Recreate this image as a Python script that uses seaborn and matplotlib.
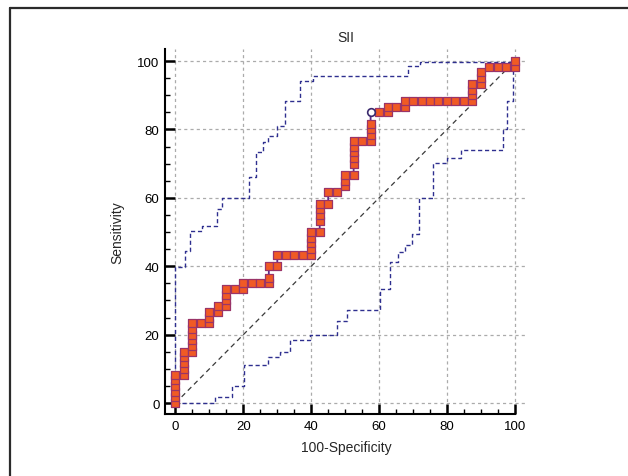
import numpy as np
import pandas as pd
import matplotlib
matplotlib.use("Agg")
import matplotlib.pyplot as plt
import seaborn as sns
from matplotlib.ticker import MultipleLocator
from matplotlib.lines import Line2D

# ROC curve points (100-Specificity, Sensitivity)
FPR = [0, 0, 0, 0, 0, 0,
       2.5, 2.5, 2.5, 2.5, 2.5,
       5, 5, 5, 5, 5, 5,
       7.5,
       10, 10, 10,
       12.5, 12.5,
       15, 15, 15, 15,
       17.5,
       20, 20,
       22.5, 25,
       27.5, 27.5, 27.5,
       30, 30,
       32.5, 35, 37.5,
       40, 40, 40, 40, 40,
       42.5, 42.5, 42.5, 42.5, 42.5,
       45, 45,
       47.5,
       50, 50, 50,
       52.5, 52.5, 52.5, 52.5, 52.5, 52.5,
       55,
       57.5, 57.5, 57.5, 57.5, 57.5,
       60,
       62.5, 62.5,
       65,
       67.5, 67.5,
       70, 72.5, 75, 77.5, 80, 82.5, 85,
       87.5, 87.5, 87.5, 87.5,
       90, 90, 90,
       92.5, 95, 97.5,
       100, 100]
TPR = [0, 1.67, 3.33, 5, 6.67, 8.33,
       8.33, 10, 11.67, 13.33, 15,
       15, 16.67, 18.33, 20, 21.67, 23.33,
       23.33,
       23.33, 25, 26.67,
       26.67, 28.33,
       28.33, 30, 31.67, 33.33,
       33.33,
       33.33, 35,
       35, 35,
       35, 36.67, 40,
       40, 43.33,
       43.33, 43.33, 43.33,
       43.33, 45, 46.67, 48.33, 50,
       50, 53.33, 55, 56.67, 58.33,
       58.33, 61.67,
       61.67,
       63.33, 65, 66.67,
       66.67, 70, 71.67, 73.33, 75, 76.67,
       76.67,
       76.67, 78.33, 80, 81.67, 85,
       85,
       85, 86.67,
       86.67,
       86.67, 88.33,
       88.33, 88.33, 88.33, 88.33, 88.33, 88.33, 88.33,
       88.33, 90, 91.67, 93.33,
       93.33, 95, 96.67,
       98.33, 98.33, 98.33,
       98.33, 100]

# optimal criterion point (hollow circle)
CUT_FPR = 57.5
CUT_TPR = 85.0

# 95% confidence bounds, step corners (x of the rise, level after the rise)
UPPER_X = [0, 0, 2.8, 4.3, 7.7, 12.1, 13.6, 21.8, 23.7, 25.8, 27.4, 29.8,
           32.3, 36.7, 40.6, 68.6, 72.0, 100]
UPPER_Y = [0, 39.7, 44.5, 50.4, 51.8, 56.7, 60.0, 66.0, 73.3, 76.2, 78.2, 81.1,
           88.4, 94.2, 95.5, 98.6, 99.6, 100]
LOWER_X = [0, 11.6, 16.6, 20.2, 27.4, 30.8, 33.7, 39.6, 47.5, 50.4, 60.3,
           63.2, 65.7, 67.6, 69.6, 71.9, 76.0, 79.9, 84.0, 96.6, 97.6, 99.4]
LOWER_Y = [0, 1.7, 5.1, 11.1, 13.4, 15.0, 18.5, 20.0, 24.1, 27.2, 33.3,
           41.1, 44.3, 46.3, 49.4, 60.1, 70.1, 71.6, 74.0, 80.1, 88.4, 100]

DIAG = [0, 100]
TICKS = [0, 20, 40, 60, 80, 100]

sns.set_theme(style="white")
plt.rcParams['font.family'] = ['Liberation Sans', 'DejaVu Sans']

fig = plt.figure(figsize=(6.28, 4.77), dpi=100)
ax = fig.add_axes([0.2627, 0.130, 0.576, 0.765])

# outer frame (top and left only)
fig.add_artist(Line2D([0.016, 1.0], [0.982, 0.982], transform=fig.transFigure,
                      color="#2b2b2b", lw=1.6))
fig.add_artist(Line2D([0.0167, 0.0167], [0.0, 0.982], transform=fig.transFigure,
                      color="#2b2b2b", lw=1.6))

# grid
for t in TICKS:
    ax.axhline(t, color="#ababab", lw=0.9, ls=(0, (2.5, 2.5)), zorder=0)
    ax.axvline(t, color="#ababab", lw=0.9, ls=(0, (2.5, 2.5)), zorder=0)

# diagonal reference
sns.lineplot(x=DIAG, y=DIAG, ax=ax, color="#3a3a3a", lw=0.9,
             linestyle=(0, (4, 3)), estimator=None, sort=False, zorder=2)

# confidence bounds
band_df_u = pd.DataFrame({"x": UPPER_X, "y": UPPER_Y})
band_df_l = pd.DataFrame({"x": LOWER_X, "y": LOWER_Y})
for d in (band_df_u, band_df_l):
    sns.lineplot(data=d, x="x", y="y", ax=ax, color="#2e2f8f", lw=1.0,
                 linestyle=(0, (3, 2)), drawstyle="steps-post",
                 estimator=None, sort=False, zorder=2)

# ROC curve
roc = pd.DataFrame({"fpr": FPR, "tpr": TPR})
sns.lineplot(data=roc, x="fpr", y="tpr", ax=ax, color="#5b2a8e", lw=1.3,
             estimator=None, sort=False, zorder=3)
is_cut = (roc["fpr"] == CUT_FPR) & (roc["tpr"] == CUT_TPR)
sns.scatterplot(data=roc[~is_cut], x="fpr", y="tpr", ax=ax, marker="s",
                s=27, color="#f05a24", edgecolor="#9a3468", linewidth=0.9,
                zorder=4)
ax.plot([CUT_FPR], [CUT_TPR], marker="o", ms=5.5, mfc="white",
        mec="#3b2a6e", mew=1.2, ls="none", zorder=5)

ax.set_xlim(-3.1, 103.5)
ax.set_ylim(-3.2, 103.5)
ax.set_xticks(TICKS)
ax.set_yticks(TICKS)
ax.xaxis.set_minor_locator(MultipleLocator(5))
ax.yaxis.set_minor_locator(MultipleLocator(5))
ax.tick_params(which="major", direction="in", length=7, width=1.8,
               labelsize=9.5, pad=4, colors="black", bottom=True, left=True)
ax.tick_params(which="minor", direction="in", length=3.5, width=1.0,
               colors="black", bottom=True, left=True)

for s in ("top", "right"):
    ax.spines[s].set_visible(False)
for s in ("left", "bottom"):
    ax.spines[s].set_color("black")
    ax.spines[s].set_linewidth(1.5)
ax.spines["bottom"].set_bounds(-3.1, 100)

ax.set_title("SII", fontsize=10, pad=6)
ax.set_xlabel("100-Specificity", fontsize=10, labelpad=6)
ax.set_ylabel("Sensitivity", fontsize=10, labelpad=9)

fig.savefig("out.png", dpi=100)
